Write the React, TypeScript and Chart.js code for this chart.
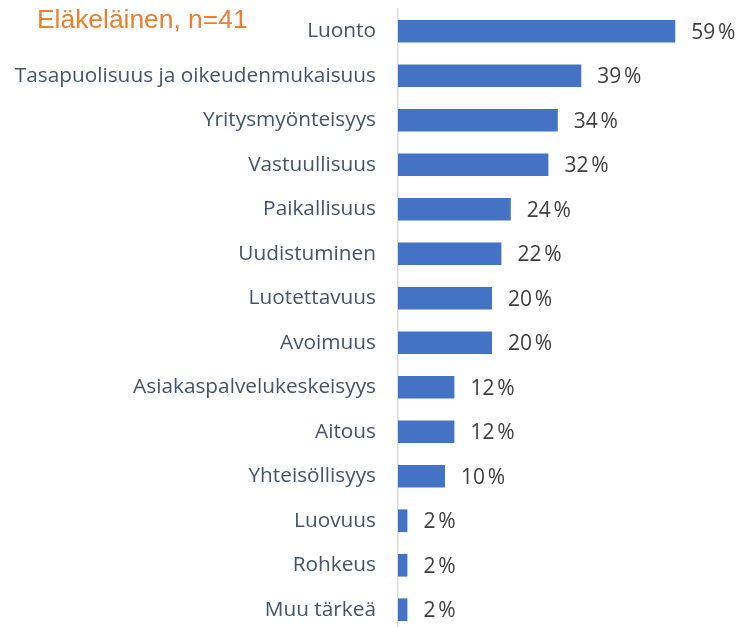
import React, { useEffect, useRef } from "react";
import { Chart, registerables } from "chart.js";

Chart.register(...registerables);

const title = "Eläkeläinen, n=41";
const categories = [
  "Luonto",
  "Tasapuolisuus ja oikeudenmukaisuus",
  "Yritysmyönteisyys",
  "Vastuullisuus",
  "Paikallisuus",
  "Uudistuminen",
  "Luotettavuus",
  "Avoimuus",
  "Asiakaspalvelukeskeisyys",
  "Aitous",
  "Yhteisöllisyys",
  "Luovuus",
  "Rohkeus",
  "Muu tärkeä",
];
const values = [59, 39, 34, 32, 24, 22, 20, 20, 12, 12, 10, 2, 2, 2];

const FONT = "'Open Sans', sans-serif";

const valueLabels = {
  id: "valueLabels",
  afterDatasetsDraw(chart: any) {
    const ctx = chart.ctx;
    const meta = chart.getDatasetMeta(0);
    ctx.save();
    ctx.font = `21px ${FONT}`;
    ctx.fillStyle = "#404040";
    ctx.textAlign = "left";
    ctx.textBaseline = "middle";
    meta.data.forEach((bar: any, i: number) => {
      ctx.fillText(`${values[i]}\u202F%`, bar.x + 16, bar.y + 1.5);
    });
    ctx.restore();
  },
};

export default function App() {
  const ref = useRef<HTMLCanvasElement>(null);
  useEffect(() => {
    document.body.style.margin = "0";
    document.documentElement.style.overflow = "hidden";
    const chart = new Chart(ref.current!, {
      type: "bar",
      data: {
        labels: categories,
        datasets: [
          {
            data: values,
            backgroundColor: "#4472C4",
            barPercentage: 0.51,
            categoryPercentage: 1,
          },
        ],
      },
      options: {
        indexAxis: "y",
        animation: false,
        responsive: false,
        layout: { padding: { top: 9, right: 13, bottom: 0, left: 0 } },
        plugins: {
          legend: { display: false },
          tooltip: { enabled: false },
          title: { display: false },
        },
        scales: {
          x: {
            display: false,
            min: 0,
            max: 70,
          },
          y: {
            afterFit: (scale: any) => {
              scale.width = 398;
              scale.paddingTop = 0;
              scale.paddingBottom = 0;
            },
            grid: { display: false, drawTicks: false },
            border: { display: true, color: "#D9D9D9", width: 1.5 },
            ticks: {
              padding: 22,
              color: "#44546A",
              font: { family: FONT, size: 20.8 },
              autoSkip: false,
            },
          },
        },
      },
      plugins: [valueLabels],
    });
    return () => chart.destroy();
  }, []);
  return (
    <div style={{ position: "relative", width: 740, height: 632 }}>
      <canvas ref={ref} width={740} height={632} style={{ display: "block" }} />
      <div
        style={{
          position: "absolute",
          left: 37,
          top: 6,
          fontFamily: "'Liberation Sans', Arial, sans-serif",
          fontSize: 26.4,
          color: "#ED7D31",
          lineHeight: 1,
          whiteSpace: "nowrap",
        }}
      >
        {title}
      </div>
    </div>
  );
}
